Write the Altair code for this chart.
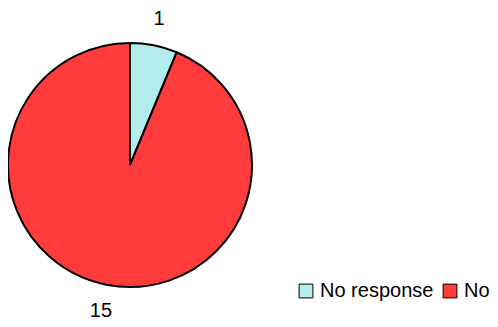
import altair as alt
import pandas as pd

categories = ["No response", "No"]
counts = [1, 15]
colors = ["#B3ECEC", "#FF3B3B"]

df = pd.DataFrame({"category": categories, "count": counts, "order": [0, 1]})

color = alt.Color(
    "category:N",
    scale=alt.Scale(domain=categories, range=colors),
    legend=alt.Legend(
        title=None,
        orient="none",
        legendX=288,
        legendY=273,
        direction="horizontal",
        symbolType="square",
        symbolSize=190,
        symbolStrokeColor="black",
        symbolStrokeWidth=1,
        labelFont="Liberation Sans",
        labelFontSize=20,
        labelColor="black",
        columnPadding=6,
        labelOffset=4,
    ),
)

base = alt.Chart(df).encode(
    theta=alt.Theta("count:Q", stack=True),
    order=alt.Order("order:Q"),
)

pie = base.mark_arc(outerRadius=122, stroke="black", strokeWidth=2).encode(
    color=color,
    x=alt.value(122),
    y=alt.value(157),
)

labels = base.mark_text(
    radius=149, font="Liberation Sans", fontSize=20, color="black"
).encode(
    text="count:Q",
    x=alt.value(122),
    y=alt.value(157),
)

chart = (
    alt.layer(pie, labels)
    .properties(width=482, height=319, padding=0, autosize=alt.AutoSizeParams(type="none"))
    .configure_view(stroke=None)
)

chart.save("out.html", embed_options={"renderer": "svg", "actions": False})
